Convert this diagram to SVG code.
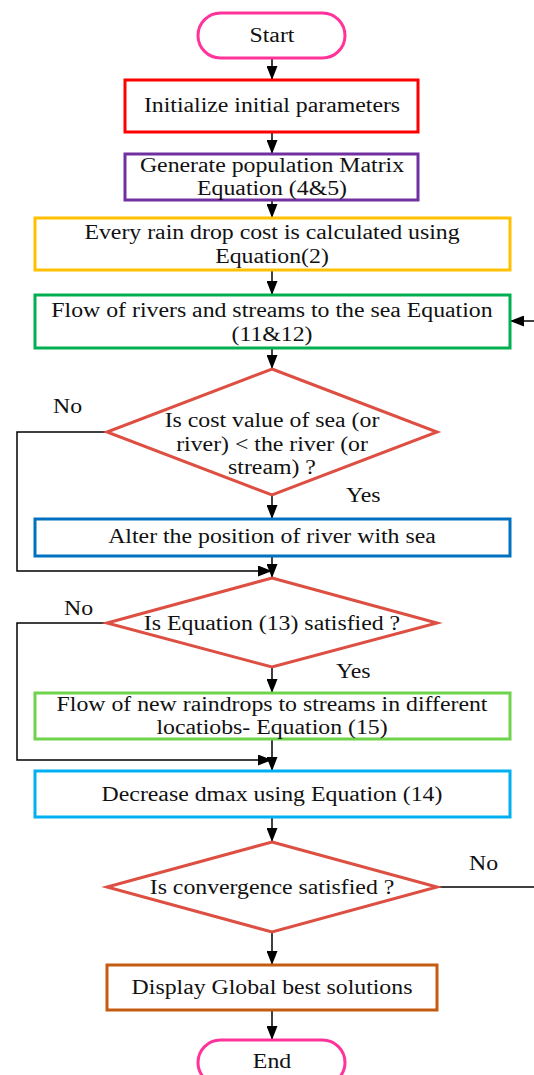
<svg xmlns="http://www.w3.org/2000/svg" width="534" height="1075" viewBox="0 0 534 1075">
<style>
text{font-family:"Liberation Serif","Times New Roman",serif;font-size:20px;fill:#111}
.c{text-anchor:middle}
.n{fill:#fff;stroke-width:3}
.d{fill:#fff;stroke:#DD4F42;stroke-width:3}
.e{fill:none;stroke:#000;stroke-width:1.5}
</style>
<defs>
<marker id="a" viewBox="0 0 14 11" refX="14" refY="5.5" markerWidth="14" markerHeight="11" markerUnits="userSpaceOnUse" orient="auto">
<path d="M0,0 L14,5.5 L0,11 z" fill="#000"/>
</marker>
</defs>
<g id="connectors">
<line class="e" x1="272" y1="58" x2="272" y2="80" marker-end="url(#a)"/>
<line class="e" x1="272" y1="132" x2="272" y2="154" marker-end="url(#a)"/>
<line class="e" x1="272" y1="200" x2="272" y2="218" marker-end="url(#a)"/>
<line class="e" x1="272" y1="270" x2="272" y2="295" marker-end="url(#a)"/>
<line class="e" x1="534" y1="321" x2="510" y2="321" marker-end="url(#a)"/>
<line class="e" x1="272" y1="348" x2="272" y2="369" marker-end="url(#a)"/>
<line class="e" x1="272" y1="495" x2="272" y2="519" marker-end="url(#a)"/>
<polyline class="e" points="107,432 17,432 17,571 272,571" marker-end="url(#a)"/>
<line class="e" x1="272" y1="556" x2="272" y2="578" marker-end="url(#a)"/>
<line class="e" x1="272" y1="667" x2="272" y2="693" marker-end="url(#a)"/>
<polyline class="e" points="107,623 17,623 17,760 272,760" marker-end="url(#a)"/>
<line class="e" x1="272" y1="739" x2="272" y2="771" marker-end="url(#a)"/>
<line class="e" x1="272" y1="817" x2="272" y2="842" marker-end="url(#a)"/>
<line class="e" x1="437" y1="887" x2="534" y2="887"/>
<line class="e" x1="272" y1="932" x2="272" y2="965" marker-end="url(#a)"/>
<line class="e" x1="272" y1="1010" x2="272" y2="1040" marker-end="url(#a)"/>
</g>
<g id="start">
<rect class="n" x="198" y="13" width="147" height="45" rx="22.5" stroke="#FF3399"/>
<text class="c" transform="translate(272,42) scale(1.19,1)">Start</text>
</g>
<g id="init">
<rect class="n" x="125" y="80" width="293" height="52" stroke="#FF0000"/>
<text class="c" transform="translate(272,112) scale(1.19,1)">Initialize initial parameters</text>
</g>
<g id="population">
<rect class="n" x="125" y="154" width="293" height="46" stroke="#7030A0"/>
<text class="c" transform="translate(272,172) scale(1.19,1)">Generate population Matrix</text>
<text class="c" transform="translate(272,195) scale(1.19,1)">Equation (4&amp;5)</text>
</g>
<g id="cost">
<rect class="n" x="35" y="218" width="475" height="52" stroke="#FFC000"/>
<text class="c" transform="translate(272,239) scale(1.19,1)">Every rain drop cost is calculated using</text>
<text class="c" transform="translate(272,263) scale(1.19,1)">Equation(2)</text>
</g>
<g id="flow">
<rect class="n" x="35" y="295" width="475" height="53" stroke="#00B050"/>
<text class="c" transform="translate(272,317) scale(1.19,1)">Flow of rivers and streams to the sea Equation</text>
<text class="c" transform="translate(272,341) scale(1.19,1)">(11&amp;12)</text>
</g>
<g id="decision1">
<polygon class="d" points="272,369 437,432 272,495 107,432"/>
<text class="c" transform="translate(272,427) scale(1.19,1)">Is cost value of sea (or</text>
<text class="c" transform="translate(272,451) scale(1.19,1)">river) &lt; the river (or</text>
<text class="c" transform="translate(272,474) scale(1.19,1)">stream) ?</text>
<text transform="translate(53,413) scale(1.19,1)">No</text>
<text transform="translate(346,502) scale(1.19,1)">Yes</text>
</g>
<g id="alter">
<rect class="n" x="35" y="519" width="475" height="37" stroke="#0070C0"/>
<text class="c" transform="translate(272,543) scale(1.19,1)">Alter the position of river with sea</text>
</g>
<g id="decision2">
<polygon class="d" points="272,578 437,623 272,667 107,623"/>
<text class="c" transform="translate(272,630) scale(1.19,1)">Is Equation (13) satisfied ?</text>
<text transform="translate(64,615) scale(1.19,1)">No</text>
<text transform="translate(336,678) scale(1.19,1)">Yes</text>
</g>
<g id="raindrops">
<rect class="n" x="35" y="693" width="475" height="46" stroke="#6ED34A"/>
<text class="c" transform="translate(272,711) scale(1.19,1)">Flow of new raindrops to streams in different</text>
<text class="c" transform="translate(272,734) scale(1.19,1)">locatiobs- Equation (15)</text>
</g>
<g id="dmax">
<rect class="n" x="35" y="771" width="475" height="46" stroke="#00B0F0"/>
<text class="c" transform="translate(272,801) scale(1.19,1)">Decrease dmax using Equation (14)</text>
</g>
<g id="decision3">
<polygon class="d" points="272,842 437,887 272,932 107,887"/>
<text class="c" transform="translate(272,894) scale(1.19,1)">Is convergence satisfied ?</text>
<text transform="translate(469,870) scale(1.19,1)">No</text>
</g>
<g id="display">
<rect class="n" x="107" y="965" width="330" height="45" stroke="#C55A11"/>
<text class="c" transform="translate(272,994) scale(1.19,1)">Display Global best solutions</text>
</g>
<g id="end">
<rect class="n" x="198" y="1040" width="147" height="45" rx="22.5" stroke="#FF3399"/>
<text class="c" transform="translate(272,1068) scale(1.19,1)">End</text>
</g>
</svg>
